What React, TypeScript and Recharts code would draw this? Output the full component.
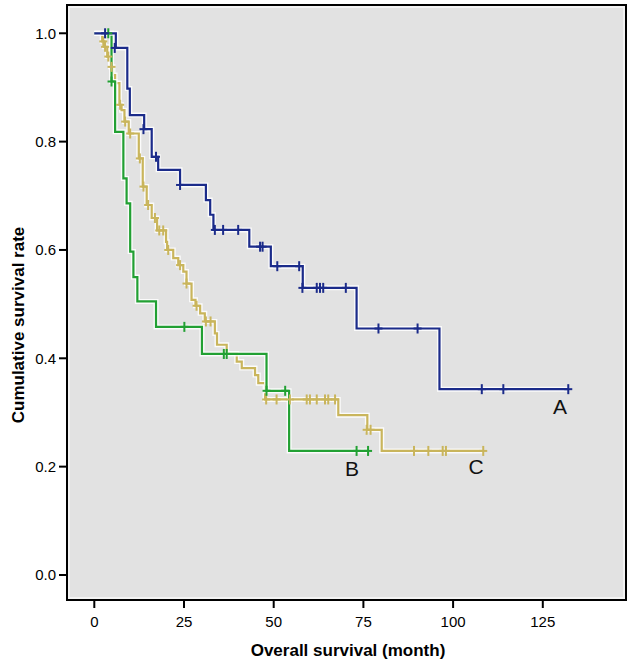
import React from 'react';
import {
  ComposedChart,
  Line,
  Scatter,
  XAxis,
  YAxis,
  ReferenceArea,
} from 'recharts';

// Kaplan-Meier steps: [month, survival]
const groupA = [
  [0, 1.0], [6.0, 0.973], [9.2, 0.898], [9.9, 0.849], [13.9, 0.823], [16.0, 0.772],
  [17.8, 0.748], [23.9, 0.72], [31.1, 0.692], [32.3, 0.665], [33.2, 0.637],
  [43.2, 0.606], [49.2, 0.57], [58.1, 0.53], [73.1, 0.455], [96.2, 0.343], [132.1, 0.343],
];
const censorA = [
  [3.0, 1.0], [5.7, 0.973], [13.7, 0.823], [17.2, 0.772], [23.9, 0.72], [33.6, 0.637],
  [35.9, 0.637], [40.1, 0.637], [46.2, 0.606], [46.9, 0.606], [51.0, 0.57], [57.1, 0.57],
  [58.0, 0.53], [62.0, 0.53], [62.9, 0.53], [63.8, 0.53], [70.1, 0.53], [79.2, 0.455],
  [90.1, 0.455], [108.0, 0.343], [114.0, 0.343], [132.1, 0.343],
];

const groupB = [
  [0, 1.0], [4.8, 0.911], [5.8, 0.818], [8.1, 0.732], [9.0, 0.686], [10.0, 0.597],
  [10.9, 0.55], [12.0, 0.505], [17.2, 0.458], [30.0, 0.408], [48.0, 0.34], [54.3, 0.229],
  [76.3, 0.229],
];
const censorB = [
  [3.9, 1.0], [4.8, 0.911], [25.1, 0.458], [36.1, 0.408], [36.9, 0.408], [48.0, 0.34],
  [53.2, 0.34], [73.1, 0.229], [76.3, 0.229],
];

const groupC = [
  [0, 1.0], [2.2, 0.985], [2.8, 0.975], [3.6, 0.957], [4.5, 0.938], [5.2, 0.923],
  [5.8, 0.908], [7.0, 0.868], [7.6, 0.858], [8.4, 0.837], [9.6, 0.815], [12.4, 0.769],
  [13.5, 0.717], [14.6, 0.683], [16.0, 0.659], [17.5, 0.636], [20.0, 0.615], [20.3, 0.6],
  [22.0, 0.585], [23.4, 0.572], [24.8, 0.56], [25.7, 0.538], [27.1, 0.508], [28.2, 0.497],
  [29.5, 0.483], [30.8, 0.468], [33.6, 0.446], [34.2, 0.425], [36.9, 0.409], [39.7, 0.394],
  [41.1, 0.382], [44.8, 0.369], [45.7, 0.354], [47.6, 0.324], [68.0, 0.295], [76.1, 0.268],
  [80.1, 0.229], [108.4, 0.229],
];
const censorC = [
  [2.5, 0.985], [3.0, 0.975], [3.9, 0.957], [4.8, 0.938], [7.2, 0.868], [8.6, 0.837],
  [10.0, 0.815], [12.7, 0.769], [13.7, 0.717], [15.0, 0.683], [16.9, 0.659], [18.1, 0.636],
  [19.2, 0.636], [20.6, 0.6], [23.9, 0.572], [25.7, 0.538], [28.5, 0.497], [31.1, 0.468],
  [32.4, 0.468], [47.9, 0.324], [50.8, 0.324], [54.5, 0.324], [59.2, 0.324], [60.1, 0.324],
  [62.0, 0.324], [64.3, 0.324], [65.2, 0.324], [67.1, 0.324], [75.9, 0.268], [77.0, 0.268],
  [89.1, 0.229], [93.1, 0.229], [97.1, 0.229], [98.0, 0.229], [108.4, 0.229],
];

const groupLabels = [
  { x: 129.8, y: 0.311, name: 'A' },
  { x: 71.8, y: 0.197, name: 'B' },
  { x: 106.4, y: 0.2, name: 'C' },
];

const xTicks = [0, 25, 50, 75, 100, 125];
const yTicks = [0, 0.2, 0.4, 0.6, 0.8, 1.0];

const X_MIN = -7.61;
const X_MAX = 148.19;
const Y_MIN = -0.0462;
const Y_MAX = 1.0522;

const BLUE = '#1b2b8a';
const GREEN = '#22a033';
const YELLOW = '#c9b55c';
const FONT = '"Liberation Sans", Arial, sans-serif';

const toPts = (arr: number[][]) => arr.map(([x, y]) => ({ x, y }));

const makeCross = (color: string) => (props: any) => {
  const { cx, cy } = props;
  if (cx == null || cy == null) return <g />;
  return (
    <g stroke={color} strokeWidth={2}>
      <line x1={cx} y1={cy - 5} x2={cx} y2={cy + 5} />
      <line x1={cx - 4} y1={cy} x2={cx + 4} y2={cy} />
    </g>
  );
};

const groupText = (props: any) => {
  const { cx, cy, payload } = props;
  return (
    <text
      x={cx}
      y={cy}
      textAnchor="middle"
      dominantBaseline="central"
      fontSize={21}
      fontFamily={FONT}
      fill="#111"
    >
      {payload.name}
    </text>
  );
};

const series = [
  { key: 'C', steps: groupC, censor: censorC, color: YELLOW },
  { key: 'B', steps: groupB, censor: censorB, color: GREEN },
  { key: 'A', steps: groupA, censor: censorA, color: BLUE },
];

export default function App() {
  const tickStyle = { fill: '#000', fontSize: 15, fontFamily: FONT };
  return (
    <div style={{ position: 'absolute', left: 0, top: 0 }}>
      <ComposedChart
        width={630}
        height={671}
        margin={{ top: 5, right: 4, bottom: 0, left: 0 }}
      >
        <XAxis
          dataKey="x"
          type="number"
          domain={[X_MIN, X_MAX]}
          ticks={xTicks}
          allowDataOverflow
          height={71}
          axisLine={false}
          tickLine={{ stroke: '#000', strokeWidth: 2 }}
          tickSize={8}
          tickMargin={8}
          tick={tickStyle}
          label={{
            content: () => (
              <text
                x={348}
                y={656}
                textAnchor="middle"
                fontSize={17}
                fontWeight="bold"
                fontFamily={FONT}
                fill="#000"
              >
                Overall survival (month)
              </text>
            ),
          }}
        />
        <YAxis
          dataKey="y"
          type="number"
          domain={[Y_MIN, Y_MAX]}
          ticks={yTicks}
          allowDataOverflow
          width={67}
          axisLine={false}
          tickLine={{ stroke: '#000', strokeWidth: 2 }}
          tickSize={8}
          tickMargin={3}
          tick={tickStyle}
          tickFormatter={(v: number) => v.toFixed(1)}
          label={{
            content: () => (
              <text
                x={24}
                y={325}
                transform="rotate(-90 24 325)"
                textAnchor="middle"
                fontSize={17}
                fontWeight="bold"
                fontFamily={FONT}
                fill="#000"
              >
                Cumulative survival rate
              </text>
            ),
          }}
        />
        <ReferenceArea
          x1={X_MIN}
          x2={X_MAX}
          y1={Y_MIN}
          y2={Y_MAX}
          fill="#f3f3f3"
          fillOpacity={1}
          stroke="#000"
          strokeWidth={2}
          ifOverflow="visible"
        />
        <ReferenceArea
          x1={X_MIN + 0.8}
          x2={X_MAX - 0.8}
          y1={Y_MIN + 0.0055}
          y2={Y_MAX - 0.0055}
          fill="#e2e2e2"
          fillOpacity={1}
          stroke="none"
          ifOverflow="visible"
        />
        {series.map((s) => [
          <Line
            key={s.key + '-halo'}
            data={toPts(s.steps)}
            dataKey="y"
            type="stepAfter"
            stroke="#ffffff"
            strokeOpacity={0.85}
            strokeWidth={5}
            dot={false}
            activeDot={false}
            isAnimationActive={false}
          />,
          <Line
            key={s.key + '-line'}
            data={toPts(s.steps)}
            dataKey="y"
            type="stepAfter"
            stroke={s.color}
            strokeWidth={2.2}
            dot={false}
            activeDot={false}
            isAnimationActive={false}
          />,
          <Scatter
            key={s.key + '-cens'}
            data={toPts(s.censor)}
            dataKey="y"
            shape={makeCross(s.color)}
            isAnimationActive={false}
          />,
        ])}
        <Scatter
          data={groupLabels}
          dataKey="y"
          shape={groupText}
          isAnimationActive={false}
        />
      </ComposedChart>
    </div>
  );
}
